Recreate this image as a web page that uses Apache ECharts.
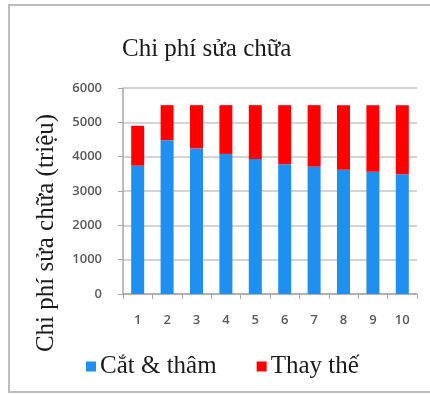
<!DOCTYPE html>
<html>
<head>
<meta charset="utf-8">
<script src="https://cdn.jsdelivr.net/npm/echarts@6/dist/echarts.min.js"></script>
<style>html,body{margin:0;padding:0;background:#fff}#c{width:430px;height:394px}</style>
</head>
<body>
<div id="c"></div>
<script>
const categories = ['1','2','3','4','5','6','7','8','9','10'];
const catTham = [3740, 4480, 4240, 4080, 3930, 3780, 3710, 3620, 3560, 3490];
const thayThe = [1160, 1020, 1260, 1420, 1570, 1720, 1790, 1880, 1940, 2010];
const seriesNames = ['Cắt & thâm', 'Thay thế'];
const titleText = 'Chi phí sửa chữa';
const yName = 'Chi phí sửa chữa (triệu)';

const chart = echarts.init(document.getElementById('c'));
const serif = '"Liberation Serif","DejaVu Serif",serif';
const sans = '"Open Sans","Liberation Sans",sans-serif';
chart.setOption({
  animation: false,
  title: {
    text: titleText, left: 117, top: 32,
    textStyle: {fontFamily: serif, fontSize: 25, fontWeight: 'normal', color: '#1a1a1a'}
  },
  legend: {
    left: 81, top: 349, itemWidth: 10, itemHeight: 10, itemGap: 40, icon: 'rect',
    textStyle: {fontFamily: serif, fontSize: 25, color: '#1a1a1a', padding: [0,0,0,-1]},
    data: seriesNames
  },
  graphic: [
    {type: 'rect', shape: {x: 9, y: 5, width: 430, height: 387},
     style: {fill: 'none', stroke: '#bdbdbd', lineWidth: 2}, silent: true},
    {type: 'text', x: 46, y: 233, rotation: Math.PI / 2,
     style: {text: yName, font: '25px ' + serif, fill: '#1a1a1a', textAlign: 'center', textVerticalAlign: 'middle'}}
  ],
  grid: {left: 123, right: 13, top: 88, bottom: 100},
  xAxis: {
    type: 'category', data: categories,
    axisLine: {lineStyle: {color: '#a6a6a6', width: 1.5}},
    axisTick: {show: true, length: 5, lineStyle: {color: '#a6a6a6'}},
    axisLabel: {color: '#595959', fontFamily: sans, fontSize: 13, fontWeight: 600, margin: 20}
  },
  yAxis: {
    type: 'value', min: 0, max: 6000, interval: 1000,
    axisLine: {show: true, lineStyle: {color: '#a6a6a6', width: 1.5}},
    axisTick: {show: true, length: 5, lineStyle: {color: '#a6a6a6'}},
    splitLine: {lineStyle: {color: '#c4c4c4', width: 1.5}},
    axisLabel: {color: '#595959', fontFamily: sans, fontSize: 13, fontWeight: 600, margin: 21,
      formatter: v => String(v)}
  },
  series: [
    {name: seriesNames[0], type: 'bar', stack: 's', data: catTham, barWidth: 13,
     itemStyle: {color: '#1f8ff0'}},
    {name: seriesNames[1], type: 'bar', stack: 's', data: thayThe, barWidth: 13,
     itemStyle: {color: '#ff0000'}}
  ]
});
</script>
</body>
</html>
